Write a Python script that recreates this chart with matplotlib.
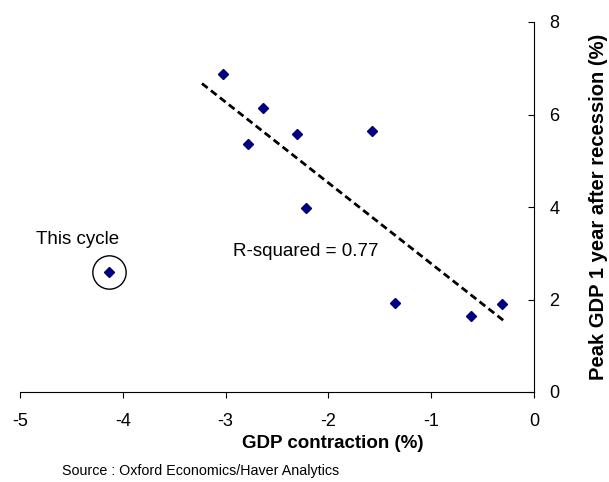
import matplotlib
matplotlib.use("Agg")
import matplotlib.pyplot as plt

# data
gdp_contraction = [-3.03, -2.64, -2.78, -2.31, -1.58, -2.22, -1.35, -0.61, -0.31]
peak_gdp_after = [6.87, 6.13, 5.37, 5.57, 5.64, 3.97, 1.93, 1.65, 1.91]
this_cycle_x = [-4.13]
this_cycle_y = [2.59]
trend_x = [-3.23, -0.27]
trend_y = [6.67, 1.50]
x_ticks = [-5, -4, -3, -2, -1, 0]
y_ticks = [0, 2, 4, 6, 8]
r_squared = 0.77

plt.rcParams["font.family"] = ["Liberation Sans", "DejaVu Sans"]

NAVY = "#000080"

fig = plt.figure(figsize=(6.09, 4.82), dpi=100)
ax = fig.add_axes([20 / 609, 1 - 392 / 482, (534 - 20) / 609, (392 - 22) / 482])

ax.plot(gdp_contraction, peak_gdp_after, linestyle="none", marker="D",
        color=NAVY, markersize=5)
ax.plot(this_cycle_x, this_cycle_y, linestyle="none", marker="D",
        color=NAVY, markersize=5)
ax.plot(this_cycle_x, this_cycle_y, linestyle="none", marker="o",
        markerfacecolor="none", markeredgecolor="black", markeredgewidth=1.0,
        markersize=24)
ax.plot(trend_x, trend_y, color="black", lw=2.0, dashes=(2.6, 1.5))

ax.text(-4.44, 3.29, "This cycle", fontsize=13.5, ha="center", va="center")
ax.text(-2.22, 3.03, f"R-squared = {r_squared}", fontsize=13.5,
        ha="center", va="center")

ax.set_xlim(-5, 0)
ax.set_ylim(0, 8)
ax.set_xticks(x_ticks)
ax.set_yticks(y_ticks)
ax.set_xticklabels([str(v) for v in x_ticks])
ax.set_yticklabels([str(v) for v in y_ticks])

for s in ("top", "left"):
    ax.spines[s].set_visible(False)
for s in ("bottom", "right"):
    ax.spines[s].set_linewidth(0.8)

ax.yaxis.tick_right()
ax.tick_params(axis="y", direction="in", length=4.3, width=0.8,
               labelsize=13, pad=11)
ax.tick_params(axis="x", direction="out", length=4.3, width=0.8,
               labelsize=13, pad=11)

fig.text(598 / 609, 1 - 207 / 482, "Peak GDP 1 year after recession (%)",
         rotation=90, ha="center", va="center", fontsize=14.5, fontweight="bold")
fig.text(333 / 609, 1 - 444 / 482, "GDP contraction (%)",
         ha="center", va="center", fontsize=13.5, fontweight="bold")
fig.text(62 / 609, 1 - 471 / 482, "Source : Oxford Economics/Haver Analytics",
         ha="left", va="center", fontsize=10.3)

fig.savefig("out.png", dpi=100)
